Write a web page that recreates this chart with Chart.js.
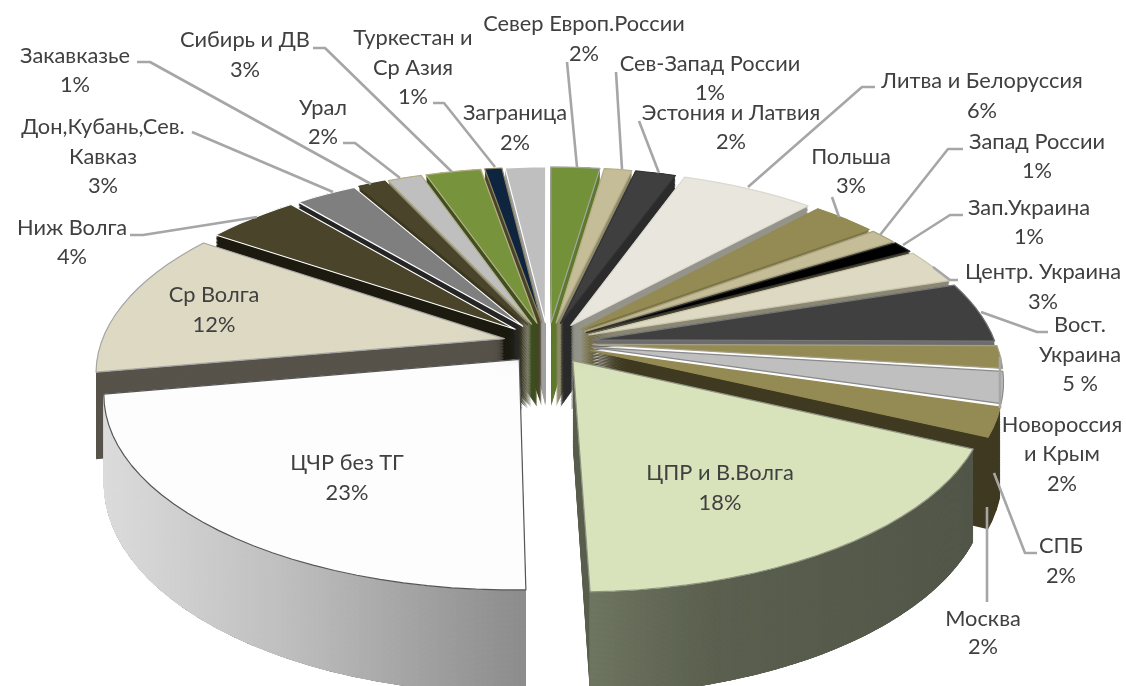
<!DOCTYPE html>
<html lang="ru"><head><meta charset="utf-8">
<style>html,body{margin:0;padding:0;background:#fff}canvas{display:block}</style>
<script src="https://cdn.jsdelivr.net/npm/chart.js@4"></script>
</head><body><canvas id="c" width="1126" height="686"></canvas>
<script>
const categories=["Север Европ.России","Сев-Запад России","Эстония и Латвия","Литва и Белоруссия","Польша","Запад России","Зап.Украина","Центр. Украина","Вост. Украина","Новороссия и Крым","СПБ","Москва","ЦПР и В.Волга","ЦЧР без ТГ","Ср Волга","Ниж Волга","Дон,Кубань,Сев. Кавказ","Закавказье","Урал","Сибирь и ДВ","Туркестан и Ср Азия","Заграница"];
const values=[2.3,1.3,1.9,6.3,3,1.3,1,2.9,5.1,1.9,2.6,2.4,17.6,22.6,12.3,4.4,2.9,1.3,1.6,2.6,0.8,1.9];
const percentLabels=["2%","1%","2%","6%","3%","1%","1%","3%","5 %","2%","2%","2%","18%","23%","12%","4%","3%","1%","2%","3%","1%","2%"];
const topColors=["#739138","#c4bd97","#3f3f3f","#e9e6de","#948a54","#c4bd97","#000000","#ddd9c3","#404040","#948a54","#bfbfbf","#948a54","#d8e3bc","#fdfdfd","#ddd9c3","#4a442a","#7f7f7f","#4a452a","#bfbfbf","#77933c","#0f243e","#bfbfbf"];
const wallColors=["#5f7a2c","#8f8a6c","#2b2b2b","#94948a","#7d7546","#77725a","#4a452a","#8a8774","#6d6d6d","#ffffff","#ffffff","#3f3a21","#5a5f4e","#444444","#57534a","#1d1b10","#262626","#3a3620","#8a8a7a","#3f4f20","#4a452a","#a0a0a0"];
const edgeColors=["#a6a6a6","#b5ae88","#333333","#dcd9d0","#948a54","#a8a27f","#333333","#c9c5ae","#777777","#a6a08a","#8a8a8a","#948a54","#8f9382","#555555","#a6a6a6","#ffffff","#ffffff","#4a452a","#b5ae88","#b5ae88","#8a8460","#ffffff"];
const rimStops={12:[[595,"#6e7560"],[720,"#5b604f"],[980,"#53574a"]],13:[[105,"#dcdcdc"],[300,"#bdbdbd"],[530,"#8c8c8c"]]};
const calloutBlocks=[
 {i:0,x:[584,584],y:[24,54]},{i:1,x:[710,710],y:[64,93]},{i:2,x:[731,731],y:[113,142]},{i:3,x:[982,982],y:[81,111]},
 {i:4,x:[851,851],y:[157,186]},{i:5,x:[1037,1037],y:[142,171]},{i:6,x:[1029,1029],y:[208,237]},{i:7,x:[1043,1043],y:[272,302]},
 {i:8,t:["Вост.","Украина"],x:[1080,1080,1080],y:[325,355,384]},{i:9,t:["Новороссия","и Крым"],x:[1062,1062,1062],y:[425,454,484]},
 {i:10,x:[1061,1061],y:[546,576]},{i:11,x:[983,983],y:[619,647]},{i:12,x:[720,720],y:[473,503]},{i:13,x:[347,347],y:[463,493]},
 {i:14,x:[214,214],y:[295,325]},{i:15,x:[72,72],y:[228,257]},{i:16,t:["Дон,Кубань,Сев.","Кавказ"],x:[103,103,103],y:[127,157,186]},
 {i:17,x:[75,75],y:[56,85]},{i:18,x:[323,323],y:[108,137]},{i:19,x:[245,245],y:[40,70]},{i:20,t:["Туркестан и","Ср Азия"],x:[413,413,413],y:[38,68,97]},
 {i:21,x:[515,515],y:[113,143]}];
const leaderPaths=[
 [[567,62],[577,167]],[[616,72],[622,169]],[[639,121],[659,173]],[[875,87],[862,87],[748,187]],[[832,197],[839,217]],
 [[963,149],[948,149],[880,235]],[[963,215],[950,215],[903,245]],[[958,280],[950,280],[933,267]],[[1048,332],[1037,332],[981,312]],
 [[1000,357],[1000,408]],[[1037,553],[1025,553],[994,473]],[[987,602],[987,507]],
 [[130,235],[143,235],[257,217]],[[192,132],[333,192]],[[137,62],[150,62],[371,184]],[[343,143],[355,143],[400,178]],
 [[313,48],[325,48],[452,172]],[[433,103],[444,103],[495,167]]];

const CX=548,CY=343,SX=448,SY=208,PERSP=0.181,DEPTH=85,OFF=0.10,RAD=0.90,STEP=Math.PI/60,RIM_STEP=Math.PI/240,OVERLAP=0.02;
function proj(nx,ny,h){const w=1-PERSP*ny;return [CX+SX*nx/w,CY+(SY*ny+h)/w];}
function hex(c){return [1,3,5].map(k=>parseInt(c.substr(k,2),16));}
function rimColor(stops,x){
 if(x<=stops[0][0])return stops[0][1];
 for(let k=1;k<stops.length;k++){if(x<=stops[k][0]){
  const t=(x-stops[k-1][0])/(stops[k][0]-stops[k-1][0]),A=hex(stops[k-1][1]),B=hex(stops[k][1]);
  return "rgb("+A.map((v,j)=>Math.round(v+(B[j]-v)*t)).join(",")+")";}}
 return stops[stops.length-1][1];
}
function drawSeg(ctx,el,base,a0,a1,mid,h,inner,color){
 const R=base.outerRadius,ox=OFF*Math.cos(mid),oy=OFF*Math.sin(mid);
 const S0=proj(ox,oy,h),S1=proj(ox+RAD*Math.cos(a0),oy+RAD*Math.sin(a0),h),S2=proj(ox+RAD*Math.cos(a1),oy+RAD*Math.sin(a1),h);
 const sx1=S1[0]-S0[0],sy1=S1[1]-S0[1],sx2=S2[0]-S0[0],sy2=S2[1]-S0[1];
 const det=R*Math.sin(a1-a0);
 const a=(sx1*Math.sin(a1)-sx2*Math.sin(a0))/det,c=(-sx1*Math.cos(a1)+sx2*Math.cos(a0))/det;
 const b=(sy1*Math.sin(a1)-sy2*Math.sin(a0))/det,d=(-sy1*Math.cos(a1)+sy2*Math.cos(a0))/det;
 ctx.save();
 ctx.transform(a,b,c,d,S0[0]-a*el.x-c*el.y,S0[1]-b*el.x-d*el.y);
 el.startAngle=a0;el.endAngle=a1;el.circumference=a1-a0;el.innerRadius=inner*R;el.outerRadius=R;
 el.options=Object.assign({},base.options,{backgroundColor:color,offset:0,borderWidth:0,spacing:0});
 el.draw(ctx);
 ctx.restore();
}
function eachSeg(base,fn,step){
 const span=base.endAngle-base.startAngle,n=Math.max(1,Math.ceil(span/(step||STEP)));
 for(let k=0;k<n;k++){const a0=base.startAngle+span*k/n,a1=Math.min(base.endAngle,base.startAngle+span*(k+1)/n+OVERLAP);fn(a0,a1);}
}
const pie3d={id:'pie3d',
 beforeDatasetDraw(){return false;},
 beforeDatasetsDraw(chart){
  const ctx=chart.ctx,els=chart.getDatasetMeta(0).data;
  const order=els.map((el,i)=>({el,i,mid:(el.startAngle+el.endAngle)/2})).sort((p,q)=>Math.sin(p.mid)-Math.sin(q.mid));
  order.forEach(({el,i,mid})=>{
   const base={startAngle:el.startAngle,endAngle:el.endAngle,circumference:el.circumference,innerRadius:el.innerRadius,outerRadius:el.outerRadius,options:el.options};
   for(let h=DEPTH;h>0;h-=1.5) eachSeg(base,(a0,a1)=>drawSeg(ctx,el,base,a0,a1,mid,h,0,wallColors[i]));
   if(rimStops[i]) for(let h=DEPTH;h>0;h-=1) eachSeg(base,(a0,a1)=>{
      const p=proj(OFF*Math.cos(mid)+RAD*Math.cos(a0),OFF*Math.sin(mid)+RAD*Math.sin(a0),h);
      drawSeg(ctx,el,base,a0,a1,mid,h,0.97,rimColor(rimStops[i],p[0]));},RIM_STEP);
   for(let pass=0;pass<2;pass++) eachSeg(base,(a0,a1)=>drawSeg(ctx,el,base,a0,a1,mid,0,0,topColors[i]));
   ctx.save();ctx.beginPath();
   const ox=OFF*Math.cos(mid),oy=OFF*Math.sin(mid),tip=proj(ox,oy,0);
   ctx.moveTo(tip[0],tip[1]);
   eachSeg(base,(a0)=>{const p=proj(ox+RAD*Math.cos(a0),oy+RAD*Math.sin(a0),0);ctx.lineTo(p[0],p[1]);});
   const e=proj(ox+RAD*Math.cos(base.endAngle),oy+RAD*Math.sin(base.endAngle),0);ctx.lineTo(e[0],e[1]);ctx.closePath();
   ctx.strokeStyle=edgeColors[i];ctx.lineWidth=1.2;ctx.lineJoin='round';ctx.stroke();ctx.restore();
   Object.assign(el,base);
  });
  ctx.save();ctx.strokeStyle='#a6a6a6';ctx.lineWidth=2.6;ctx.lineJoin='round';
  leaderPaths.forEach(path=>{ctx.beginPath();path.forEach((p,k)=>k?ctx.lineTo(p[0],p[1]):ctx.moveTo(p[0],p[1]));ctx.stroke();});
  ctx.fillStyle='#404040';ctx.font='21.8px Lato, "Open Sans", sans-serif';ctx.textAlign='center';ctx.textBaseline='middle';
  calloutBlocks.forEach(b=>{const lines=(b.t||[categories[b.i]]).concat(percentLabels[b.i]);
   lines.forEach((s,k)=>ctx.fillText(s,b.x[k],b.y[k]));});
  ctx.restore();
 }};
new Chart(document.getElementById('c'),{type:'pie',
 data:{labels:categories,datasets:[{data:values,backgroundColor:topColors,borderWidth:0,clip:false}]},
 options:{responsive:false,animation:false,events:[],plugins:{legend:{display:false},tooltip:{enabled:false}}},
 plugins:[pie3d]});
</script></body></html>
